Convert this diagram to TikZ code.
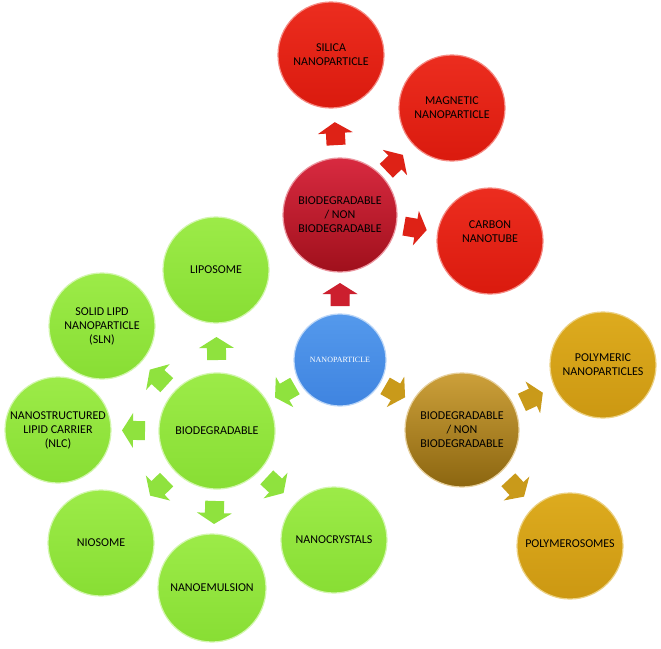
\documentclass[tikz,border=0pt]{standalone}
\usepackage{fontspec}
\setmainfont{Carlito}
\newfontfamily\npfont{Liberation Serif}
\usetikzlibrary{calc}
\definecolor{redtop}{HTML}{EC2D1F}
\definecolor{redbot}{HTML}{DA1A0E}
\definecolor{crimtop}{HTML}{D82A40}
\definecolor{crimbot}{HTML}{A0101C}
\definecolor{bluetop}{HTML}{5499EC}
\definecolor{bluebot}{HTML}{3F84E0}
\definecolor{goldtop}{HTML}{DDAB1E}
\definecolor{goldbot}{HTML}{CC9812}
\definecolor{goldmtop}{HTML}{CCA03A}
\definecolor{goldmbot}{HTML}{8C6610}
\definecolor{greentop}{HTML}{9CEB48}
\definecolor{greenbot}{HTML}{88DE34}
\definecolor{redarr}{HTML}{DE2216}
\definecolor{crimarr}{HTML}{CC1F2E}
\definecolor{goldarr}{HTML}{C99A1A}
\definecolor{greenarr}{HTML}{8FE23E}
\tikzset{
  ball/.style={circle, inner sep=0pt, minimum size=106pt, align=center,
    font=\fontsize{12}{14}\selectfont, text=black, line width=1.2pt},
  bigball/.style={ball, minimum size=114pt},
  redball/.style={ball, top color=redtop, bottom color=redbot, draw=redtop!55!white},
  crimball/.style={bigball, top color=crimtop, bottom color=crimbot, draw=crimtop!50!white},
  blueball/.style={ball, minimum size=92pt, top color=bluetop, bottom color=bluebot, draw=bluetop!40!white,
    text=white, font=\npfont\fontsize{8}{10}\selectfont},
  goldball/.style={ball, top color=goldtop, bottom color=goldbot, draw=goldtop!55!white},
  goldmball/.style={bigball, top color=goldmtop, bottom color=goldmbot, draw=goldmtop!50!white},
  greenball/.style={ball, top color=greentop, bottom color=greenbot, draw=greentop!45!white},
  greenmball/.style={greenball, minimum size=116pt},
  redblk/.style={fill=redarr},
  crimblk/.style={fill=crimarr},
  goldblk/.style={fill=goldarr},
  greenblk/.style={fill=greenarr},
}
% block arrow: #1 style, from node #2 toward node #3, tail at distance #4 and tip at #5 from #2
\newcommand\blkarr[5]{%
  \path ($(#2)!#4!(#3)$) coordinate (t0) ($(#2)!#5!(#3)$) coordinate (t1);
  \path ($(t1)!11pt!(t0)$) coordinate (hb);
  \fill[#1] ($(t0)!9.5pt!90:(t1)$) -- ($(hb)!9.5pt!90:(t1)$) -- ($(hb)!17.5pt!90:(t1)$)
    -- (t1) -- ($(hb)!17.5pt!-90:(t1)$) -- ($(hb)!9.5pt!-90:(t1)$) -- ($(t0)!9.5pt!-90:(t1)$) -- cycle;}
\begin{document}
\begin{tikzpicture}[x=1pt,y=-1pt]
\useasboundingbox[fill=white] (0,0) rectangle (661,648);
% nodes
\node[blueball] (nano) at (340,360) {NANOPARTICLE};
\node[crimball] (redbio) at (340,215) {BIODEGRADABLE\\/ NON\\BIODEGRADABLE};
\node[redball] (silica) at (331,55) {SILICA\\NANOPARTICLE};
\node[redball] (magnetic) at (452,108) {MAGNETIC\\NANOPARTICLE};
\node[redball] (carbon) at (490,241) {CARBON\\NANOTUBE\\[4pt]};
\node[goldmball] (goldbio) at (462,430) {BIODEGRADABLE\\/ NON\\BIODEGRADABLE};
\node[goldball] (polymeric) at (603,365) {POLYMERIC\\NANOPARTICLES};
\node[goldball] (polymerosomes) at (570,546) {\raisebox{4pt}{POLYMEROSOMES}};
\node[greenmball] (greenbio) at (217,431) {BIODEGRADABLE};
\node[greenball] (liposome) at (216,270) {LIPOSOME};
\node[greenball] (sln) at (102,326) {SOLID LIPD\\NANOPARTICLE\\(SLN)};
\node[greenball] (nlc) at (58,430) {NANOSTRUCTURED\\LIPID CARRIER\\(NLC)};
\node[greenball] (niosome) at (101,543) {\raisebox{-6pt}{NIOSOME}};
\node[greenball, minimum size=108pt] (nanoemulsion) at (212,588) {NANOEMULSION};
\node[greenball] (nanocrystals) at (334,540) {NANOCRYSTALS};
% block arrows
\blkarr{crimblk}{nano}{redbio}{54pt}{77pt}
\blkarr{redblk}{redbio}{silica}{70pt}{93pt}
\blkarr{redblk}{redbio}{magnetic}{64pt}{87pt}
\blkarr{redblk}{redbio}{carbon}{65pt}{88pt}
\blkarr{goldblk}{nano}{goldbio}{52pt}{75pt}
\blkarr{goldblk}{goldbio}{polymeric}{66pt}{89pt}
\blkarr{goldblk}{goldbio}{polymerosomes}{68pt}{91pt}
\blkarr{greenblk}{nano}{greenbio}{52pt}{75pt}
\blkarr{greenblk}{greenbio}{liposome}{71pt}{94pt}
\blkarr{greenblk}{greenbio}{sln}{68pt}{91pt}
\blkarr{greenblk}{greenbio}{nlc}{72pt}{95pt}
\blkarr{greenblk}{greenbio}{niosome}{70pt}{93pt}
\blkarr{greenblk}{greenbio}{nanoemulsion}{70pt}{93pt}
\blkarr{greenblk}{greenbio}{nanocrystals}{68pt}{91pt}
\end{tikzpicture}
\end{document}
